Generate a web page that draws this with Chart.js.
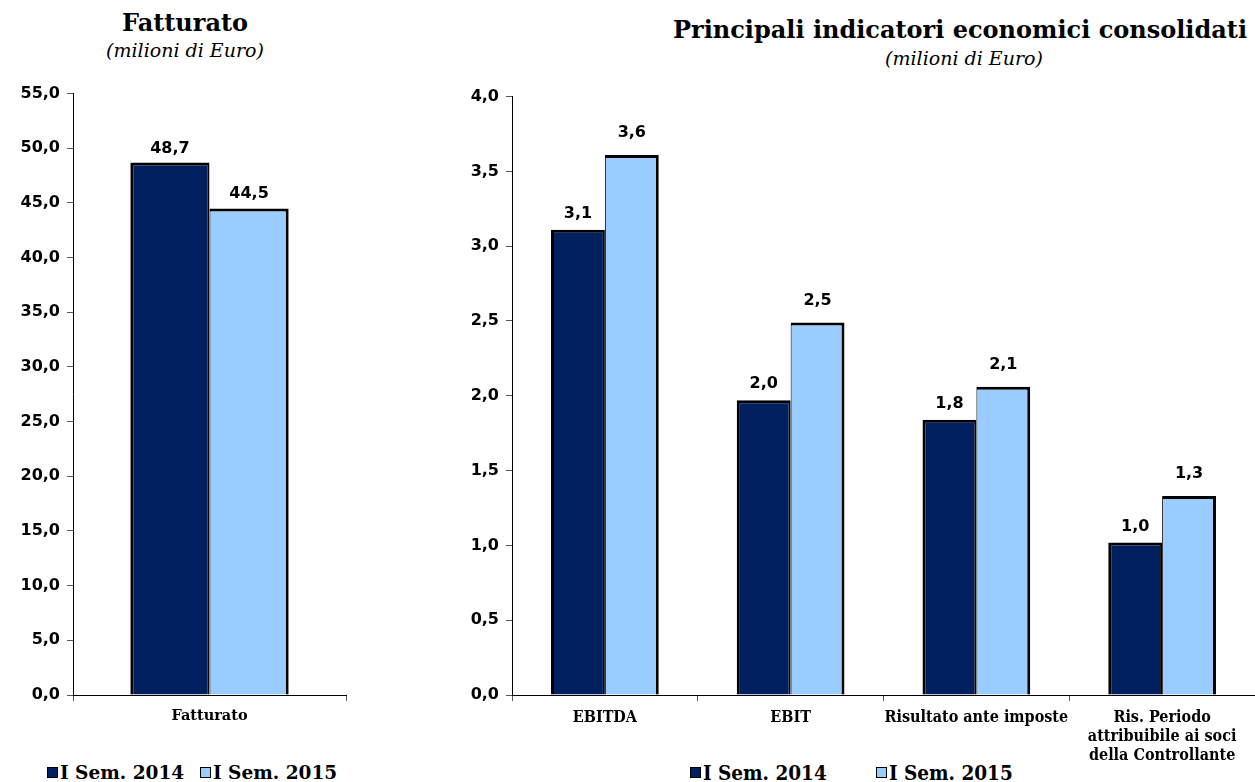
<!DOCTYPE html>
<html lang="it">
<head>
<meta charset="UTF-8">
<title>Fatturato e principali indicatori economici consolidati</title>
<script src="https://cdn.jsdelivr.net/npm/chart.js"></script>
<style>
  body {
    margin: 0;
    width: 1255px;
    height: 782px;
    position: relative;
    overflow: hidden;
    background: #fff;
    color: #000;
    font-family: "DejaVu Serif", serif;
  }
  .title {
    position: absolute;
    text-align: center;
    font-weight: bold;
    font-size: 24px;
    line-height: 28px;
  }
  .subtitle {
    position: absolute;
    text-align: center;
    font-style: italic;
    font-size: 19px;
    line-height: 22px;
  }
  .chart {
    position: absolute;
  }
  .legend {
    position: absolute;
    font-weight: bold;
    font-size: 18.5px;
    line-height: 20px;
    white-space: nowrap;
  }
  .legend .item {
    position: absolute;
    top: 0;
  }
  .legend .box {
    display: inline-block;
    width: 9px;
    height: 9px;
    border: 1px solid #000;
    margin-right: 2px;
    vertical-align: middle;
    position: relative;
    top: -2px;
  }
  .legend.narrow {
    font-family: "DejaVu Serif Condensed", "DejaVu Serif", serif;
    font-size: 20.5px;
  }
</style>
</head>
<body>
  <div class="title" style="left:0; width:370px; top:9px;">Fatturato</div>
  <div class="subtitle" style="left:0; width:370px; top:39px;">(milioni di Euro)</div>

  <div class="title" style="left:660px; width:600px; top:16px;">Principali indicatori economici consolidati</div>
  <div class="subtitle" style="left:664px; width:600px; top:47px;">(milioni di Euro)</div>

  <div class="chart" style="left:0; top:77px; width:360px; height:683px;">
    <canvas id="fattChart"></canvas>
  </div>
  <div class="chart" style="left:440px; top:80px; width:815px; height:680px;">
    <canvas id="indChart"></canvas>
  </div>

  <div class="legend" style="left:47px; top:763px;">
    <span class="item" style="left:0;"><span class="box" style="background:#002060;"></span>I Sem. 2014</span>
    <span class="item" style="left:153px;"><span class="box" style="background:#99CCFF;"></span>I Sem. 2015</span>
  </div>
  <div class="legend narrow" style="left:690px; top:763px;">
    <span class="item" style="left:0;"><span class="box" style="background:#002060;"></span>I Sem. 2014</span>
    <span class="item" style="left:186px;"><span class="box" style="background:#99CCFF;"></span>I Sem. 2015</span>
  </div>

<script>
  // Data
  const seriesNames = ['I Sem. 2014', 'I Sem. 2015'];

  const fattCategories = ['Fatturato'];
  const fatt2014 = [48.7];
  const fatt2015 = [44.5];
  const fattAxis = [0, 55, 5];   // min, max, step

  const indCategories = [
    'EBITDA',
    'EBIT',
    'Risultato ante imposte',
    ['Ris. Periodo', 'attribuibile ai soci', 'della Controllante']
  ];
  const ind2014 = [3.11, 1.97, 1.84, 1.02];
  const ind2015 = [3.61, 2.49, 2.06, 1.33];
  const indAxis = [0, 4, 0.5];

  const darkBlue = '#002060';
  const lightBlue = '#99CCFF';

  const fmt = v => v.toFixed(1).replace('.', ',');

  // draws the value above each bar
  const valueLabels = {
    id: 'valueLabels',
    afterDatasetsDraw(chart, args, opts) {
      const ctx = chart.ctx;
      ctx.save();
      ctx.font = 'bold 16px "DejaVu Sans"';
      ctx.fillStyle = '#000';
      ctx.textAlign = 'center';
      ctx.textBaseline = 'middle';
      chart.data.datasets.forEach((ds, i) => {
        chart.getDatasetMeta(i).data.forEach((bar, j) => {
          ctx.fillText(fmt(ds.data[j]), bar.x, bar.y - opts.offsets[i]);
        });
      });
      ctx.restore();
    }
  };

  function makeChart(id, categories, a, b, axis, opts) {
    return new Chart(document.getElementById(id), {
      type: 'bar',
      data: {
        labels: categories,
        datasets: [
          {
            label: seriesNames[0], data: a, backgroundColor: darkBlue, borderColor: '#000',
            borderWidth: { top: 3, left: 3, right: 2, bottom: 0 }
          },
          {
            label: seriesNames[1], data: b, backgroundColor: lightBlue, borderColor: '#000',
            borderWidth: { top: 3, left: 1, right: 3, bottom: 0 }
          }
        ]
      },
      options: {
        responsive: true,
        maintainAspectRatio: false,
        animation: false,
        categoryPercentage: 0.58,
        barPercentage: 1,
        layout: { padding: { top: opts.padTop, right: opts.padRight, left: 0, bottom: 0 } },
        plugins: {
          legend: { display: false },
          tooltip: { enabled: false },
          valueLabels: { offsets: opts.offsets }
        },
        scales: {
          x: {
            grid: { drawOnChartArea: false, drawTicks: true, tickLength: 6, color: '#555' },
            border: { color: '#000', width: 1 },
            ticks: {
              color: '#000',
              padding: 7,
              maxRotation: 0,
              autoSkip: false,
              font: { family: opts.catFont, weight: 'bold', size: opts.catSize, lineHeight: 1.2 }
            },
            afterFit: s => { s.height = 65; }
          },
          y: {
            min: axis[0],
            max: axis[1],
            grid: { drawOnChartArea: false, drawTicks: true, tickLength: 6, color: '#555' },
            border: { color: '#000', width: 1 },
            ticks: {
              stepSize: axis[2],
              color: '#000',
              padding: 7,
              font: { family: 'DejaVu Sans', weight: 'bold', size: 16 },
              callback: v => fmt(v)
            },
            afterFit: s => { s.width = opts.yWidth; }
          }
        }
      },
      plugins: [valueLabels]
    });
  }

  makeChart('fattChart', fattCategories, fatt2014, fatt2015, fattAxis, {
    padTop: 15, padRight: 14, yWidth: 73, offsets: [14, 15], catFont: 'DejaVu Serif', catSize: 14.5
  });
  makeChart('indChart', indCategories, ind2014, ind2015, indAxis, {
    padTop: 15, padRight: 0, yWidth: 72, offsets: [16, 22], catFont: 'DejaVu Serif Condensed', catSize: 16
  });
</script>
</body>
</html>
